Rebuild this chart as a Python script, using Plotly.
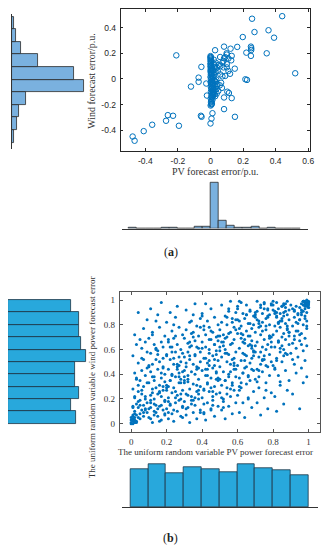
import plotly.graph_objects as go

# page body has an 8 px margin: figure is placed at (8, 8)
OFF = 8
W, H = 331 - OFF, 550 - OFF

# ---------------- Panel (a) data ----------------
a_pv_out = [0.44, 0.255, 0.356, 0.27, 0.198, 0.39, 0.248, 0.25, 0.164, 0.083,
            0.123, 0.25, 0.028, 0.22, 0.345, 0.248, -0.21, 0.099, 0.13, 0.059,
            0.083, 0.11, 0.127, 0.032, 0.073, 0.1, 0.04, 0.08, 0.11, 0.149,
            0.06, 0.09, 0.12, 0.52, -0.056, 0.214, 0.224, -0.073, -0.073, -0.12,
            0.042, 0.073, 0.048, 0.103, 0.113, 0.083, 0.13, -0.022, 0.008, 0.083,
            0.012, 0.15, -0.059, -0.055, 0.006, 0.0, 0.057, 0.07, -0.23, -0.262,
            -0.273, -0.194, -0.358, -0.41, -0.478, -0.466, -0.026, 0.08, 0.09, 0.06,
            0.02, 0.03, 0.035, 0.025, 0.045, 0.02, 0.1, 0.1, 0.065, 0.05]
a_wind_out = [0.49, 0.47, 0.38, 0.366, 0.327, 0.322, 0.252, 0.24, 0.25, 0.252,
              0.236, 0.226, 0.224, 0.205, 0.2, 0.18, 0.184, 0.2, 0.18, 0.171,
              0.161, 0.16, 0.145, 0.127, 0.127, 0.115, 0.088, 0.09, 0.062, 0.08,
              0.035, 0.023, 0.04, 0.044, 0.094, -0.003, -0.008, 0.01, -0.023, -0.06,
              -0.041, 0.02, -0.094, -0.1, -0.11, -0.145, -0.15, -0.13, -0.197, -0.236,
              -0.268, -0.296, -0.288, -0.296, -0.31, -0.348, -0.05, -0.07, -0.288, -0.283,
              -0.327, -0.366, -0.358, -0.408, -0.45, -0.483, -0.036, 0.14, 0.17, 0.1,
              0.05, -0.02, -0.08, -0.12, 0.06, 0.15, 0.09, 0.19, -0.03, 0.11]
a_pv_col = [0.000, 0.002, 0.000, 0.001, 0.003, 0.000, 0.002, 0.004, 0.001, 0.000,
            0.005, 0.002, 0.000, 0.006, 0.003, 0.001, 0.007, 0.000, 0.004, 0.008,
            0.002, 0.006, 0.010, 0.000, 0.005, 0.009, 0.003, 0.012, 0.007, 0.001,
            0.011, 0.004, 0.014, 0.008, 0.002, 0.013, 0.006, 0.016, 0.010, 0.003,
            0.015, 0.007, 0.018, 0.011, 0.005, 0.014, 0.009, 0.002, 0.012, 0.006,
            0.003, 0.008, 0.004, 0.001,
            0.020, 0.025, 0.015, 0.030, 0.022, 0.018, 0.035, 0.027, 0.016, 0.024,
            0.032, 0.019, 0.028, 0.021, 0.038, 0.017, 0.026, 0.031, 0.023, 0.029]
a_wind_col = [0.178, 0.171, 0.165, 0.158, 0.150, 0.143, 0.137, 0.130, 0.121, 0.115,
              0.108, 0.100, 0.094, 0.086, 0.079, 0.071, 0.065, 0.058, 0.050, 0.044,
              0.037, 0.029, 0.022, 0.015, 0.008, 0.001, -0.006, -0.013, -0.020, -0.027,
              -0.034, -0.041, -0.048, -0.055, -0.062, -0.069, -0.076, -0.083, -0.090, -0.097,
              -0.104, -0.111, -0.118, -0.125, -0.132, -0.139, -0.146, -0.155, -0.163, -0.172,
              -0.181, -0.190, -0.200, -0.208,
              0.118, 0.092, 0.070, 0.055, 0.031, 0.012, -0.005, -0.018, -0.032, -0.047,
              -0.061, -0.074, -0.088, -0.102, -0.115, -0.125, 0.105, 0.080, -0.010, -0.135]

a_wind_bins = [-0.45, -0.35, -0.25, -0.15, -0.05, 0.05, 0.15, 0.25, 0.35, 0.45]
a_wind_counts = [3, 6, 9, 17, 88, 75, 31, 11, 5, 2]
a_pv_bins = [-0.475, -0.425, -0.375, -0.325, -0.275, -0.225, -0.175, -0.125, -0.075, -0.025,
             0.025, 0.075, 0.125, 0.175, 0.225, 0.275, 0.325, 0.375, 0.425, 0.475, 0.525]
a_pv_counts = [2, 1, 1, 0, 2, 2, 1, 1, 6, 6,
               170, 28, 12, 4, 4, 6, 0, 3, 0, 1, 1]
a_xticks = [-0.4, -0.2, 0, 0.2, 0.4, 0.6]
a_xticktext = ["-0.4", "-0.2", "0", "0.2", "0.4", "0.6"]
a_yticks = [-0.4, -0.2, 0, 0.2, 0.4]
a_yticktext = ["-0.4", "-0.2", "0", "0.2", "0.4"]

# ---------------- Panel (b) data ----------------
b_pv = [
    # 0.0 - 0.1
    0.01, 0.00, 0.02, 0.01, 0.03, 0.00, 0.02, 0.01, 0.04, 0.02, 0.07, 0.03, 0.05, 0.09, 0.02, 0.06, 0.08, 0.04, 0.01, 0.07,
    0.03, 0.09, 0.05, 0.02, 0.08, 0.06, 0.04, 0.01, 0.07, 0.09, 0.05, 0.03, 0.08, 0.02, 0.06, 0.10, 0.04, 0.07, 0.01, 0.09,
    0.06, 0.03, 0.08, 0.05, 0.02, 0.07, 0.09, 0.04, 0.01, 0.02,
    0.00, 0.01, 0.03, 0.02, 0.05, 0.04, 0.08, 0.06, 0.01, 0.03, 0.07, 0.02, 0.09, 0.05, 0.00, 0.04, 0.06, 0.02, 0.08, 0.01,
    # 0.1 - 0.2
    0.12, 0.17, 0.11, 0.15, 0.19, 0.13, 0.18, 0.10, 0.16, 0.14, 0.11, 0.19, 0.13, 0.17, 0.15, 0.12, 0.18, 0.14, 0.16, 0.10,
    0.13, 0.17, 0.19, 0.11, 0.15, 0.18, 0.12, 0.16, 0.14, 0.20, 0.11, 0.15, 0.18, 0.13, 0.17, 0.10, 0.19, 0.12, 0.16, 0.14,
    0.15, 0.11, 0.17, 0.13, 0.19, 0.16, 0.12, 0.18, 0.14, 0.11,
    0.10, 0.13, 0.16, 0.11, 0.19, 0.14, 0.17, 0.12, 0.15, 0.18, 0.11, 0.14, 0.19, 0.13, 0.16, 0.10, 0.17, 0.12, 0.18, 0.15,
    # 0.2 - 0.3
    0.24, 0.21, 0.28, 0.23, 0.26, 0.20, 0.29, 0.22, 0.25, 0.27, 0.21, 0.26, 0.23, 0.29, 0.24, 0.20, 0.27, 0.22, 0.28, 0.25,
    0.23, 0.29, 0.21, 0.26, 0.24, 0.28, 0.22, 0.27, 0.20, 0.25, 0.28, 0.22, 0.26, 0.21, 0.24, 0.29, 0.23, 0.27, 0.20, 0.25,
    0.22, 0.26, 0.21, 0.28, 0.24, 0.27, 0.23, 0.29, 0.25, 0.21,
    0.21, 0.25, 0.28, 0.22, 0.26, 0.20, 0.29, 0.24, 0.27, 0.23, 0.21, 0.28, 0.25, 0.22, 0.29, 0.26, 0.20, 0.24, 0.27, 0.23,
    # 0.3 - 0.4
    0.33, 0.37, 0.31, 0.35, 0.39, 0.32, 0.36, 0.30, 0.38, 0.34, 0.31, 0.37, 0.33, 0.39, 0.35, 0.32, 0.38, 0.30, 0.36, 0.34,
    0.37, 0.31, 0.35, 0.39, 0.33, 0.30, 0.36, 0.32, 0.38, 0.34, 0.32, 0.36, 0.30, 0.38, 0.34, 0.31, 0.37, 0.33, 0.39, 0.35,
    0.31, 0.36, 0.32, 0.34, 0.30, 0.38, 0.33, 0.37, 0.35, 0.39,
    0.31, 0.35, 0.38, 0.32, 0.36, 0.30, 0.39, 0.34, 0.37, 0.33, 0.31, 0.38, 0.35, 0.32, 0.39, 0.36, 0.30, 0.34, 0.37, 0.33,
    # 0.4 - 0.5
    0.42, 0.47, 0.41, 0.45, 0.49, 0.43, 0.46, 0.40, 0.48, 0.44, 0.41, 0.47, 0.43, 0.49, 0.45, 0.42, 0.48, 0.40, 0.46, 0.44,
    0.43, 0.49, 0.41, 0.46, 0.44, 0.48, 0.42, 0.47, 0.40, 0.45, 0.48, 0.42, 0.46, 0.41, 0.44, 0.49, 0.43, 0.47, 0.40, 0.45,
    0.42, 0.46, 0.41, 0.48, 0.43, 0.47, 0.44, 0.49, 0.45, 0.41,
    0.41, 0.45, 0.48, 0.42, 0.46, 0.40, 0.49, 0.44, 0.47, 0.43, 0.41, 0.48, 0.45, 0.42, 0.49, 0.46, 0.40, 0.44, 0.47, 0.43,
    # 0.5 - 0.6
    0.53, 0.57, 0.51, 0.55, 0.59, 0.52, 0.56, 0.50, 0.58, 0.54, 0.51, 0.57, 0.53, 0.59, 0.55, 0.52, 0.58, 0.50, 0.56, 0.54,
    0.57, 0.51, 0.55, 0.59, 0.53, 0.50, 0.56, 0.52, 0.58, 0.54, 0.52, 0.56, 0.50, 0.58, 0.54, 0.51, 0.57, 0.53, 0.59, 0.55,
    0.51, 0.56, 0.52, 0.54, 0.50, 0.58, 0.53, 0.57, 0.55, 0.59,
    0.51, 0.55, 0.58, 0.52, 0.56, 0.50, 0.59, 0.54, 0.57, 0.53, 0.51, 0.58, 0.55, 0.52, 0.59, 0.56, 0.50, 0.54, 0.57, 0.53,
    # 0.6 - 0.7
    0.64, 0.61, 0.68, 0.63, 0.66, 0.60, 0.69, 0.62, 0.65, 0.67, 0.61, 0.66, 0.63, 0.69, 0.64, 0.60, 0.67, 0.62, 0.68, 0.65,
    0.63, 0.69, 0.61, 0.66, 0.64, 0.68, 0.62, 0.67, 0.60, 0.65, 0.68, 0.62, 0.66, 0.61, 0.64, 0.69, 0.63, 0.67, 0.60, 0.65,
    0.62, 0.66, 0.61, 0.68, 0.64, 0.67, 0.63, 0.69, 0.65, 0.61,
    0.61, 0.65, 0.68, 0.62, 0.66, 0.60, 0.69, 0.64, 0.67, 0.63, 0.61, 0.68, 0.65, 0.62, 0.69, 0.66, 0.60, 0.64, 0.67, 0.63,
    # 0.7 - 0.8
    0.73, 0.77, 0.71, 0.75, 0.79, 0.72, 0.76, 0.70, 0.78, 0.74, 0.71, 0.77, 0.73, 0.79, 0.75, 0.72, 0.78, 0.70, 0.76, 0.74,
    0.77, 0.71, 0.75, 0.79, 0.73, 0.70, 0.76, 0.72, 0.78, 0.74, 0.72, 0.76, 0.70, 0.78, 0.74, 0.71, 0.77, 0.73, 0.79, 0.75,
    0.71, 0.76, 0.72, 0.74, 0.70, 0.78, 0.73, 0.77, 0.75, 0.79,
    0.71, 0.75, 0.78, 0.72, 0.76, 0.70, 0.79, 0.74, 0.77, 0.73, 0.71, 0.78, 0.75, 0.72, 0.79, 0.76, 0.70, 0.74, 0.77, 0.73,
    # 0.8 - 0.9
    0.82, 0.86, 0.81, 0.88, 0.84, 0.89, 0.83, 0.87, 0.80, 0.85, 0.82, 0.88, 0.84, 0.86, 0.81, 0.89, 0.83, 0.87, 0.85, 0.80,
    0.86, 0.82, 0.88, 0.84, 0.81, 0.87, 0.83, 0.89, 0.85, 0.82, 0.88, 0.84, 0.86, 0.81, 0.89, 0.83, 0.87, 0.85, 0.80, 0.86,
    0.82, 0.88, 0.84, 0.81, 0.87, 0.83, 0.89, 0.85, 0.82, 0.86,
    0.81, 0.85, 0.88, 0.82, 0.86, 0.80, 0.89, 0.84, 0.87, 0.83, 0.81, 0.88, 0.85, 0.82, 0.89, 0.86, 0.80, 0.84, 0.87, 0.83,
    # 0.9 - 1.0
    0.95, 0.91, 0.97, 0.99, 0.93, 0.96, 0.92, 0.98, 0.94, 0.90, 0.97, 0.93, 0.99, 0.91, 0.95, 0.98, 0.92, 0.96, 0.94, 0.99,
    0.91, 0.97, 0.93, 0.99, 0.95, 0.92, 0.98, 0.96, 0.94, 0.99, 0.97, 0.92, 0.98, 0.95, 1.00, 0.93, 0.99, 0.97, 0.96, 1.00,
    0.98, 0.99, 0.97, 1.00, 0.99, 0.98, 0.96, 0.99, 0.98, 1.00,
    0.91, 0.95, 0.98, 0.92, 0.96, 0.90, 0.99, 0.94, 0.97, 0.93, 0.91, 0.98, 0.95, 0.92, 0.99, 0.96, 1.00, 0.94, 0.97, 1.00,
]
b_wind = [
    # 0.0 - 0.1
    0.00, 0.01, 0.01, 0.02, 0.02, 0.03, 0.03, 0.04, 0.05, 0.05, 0.06, 0.07, 0.08, 0.09, 0.10, 0.11, 0.12, 0.13, 0.14, 0.15,
    0.16, 0.17, 0.19, 0.21, 0.22, 0.24, 0.26, 0.28, 0.30, 0.33, 0.35, 0.37, 0.39, 0.41, 0.43, 0.46, 0.49, 0.52, 0.55, 0.58,
    0.61, 0.64, 0.66, 0.68, 0.72, 0.77, 0.84, 0.90, 0.06, 0.02,
    0.00, 0.03, 0.01, 0.08, 0.04, 0.18, 0.11, 0.27, 0.13, 0.36, 0.09, 0.22, 0.45, 0.15, 0.05, 0.31, 0.53, 0.01, 0.20, 0.07,
    # 0.1 - 0.2
    0.01, 0.03, 0.04, 0.06, 0.08, 0.10, 0.11, 0.12, 0.14, 0.15, 0.17, 0.19, 0.20, 0.22, 0.24, 0.25, 0.27, 0.29, 0.31, 0.33,
    0.35, 0.37, 0.40, 0.42, 0.44, 0.46, 0.48, 0.50, 0.52, 0.55, 0.57, 0.59, 0.62, 0.64, 0.66, 0.69, 0.71, 0.74, 0.78, 0.83,
    0.88, 0.93, 0.98, 0.07, 0.18, 0.26, 0.38, 0.45, 0.60, 0.13,
    0.05, 0.16, 0.02, 0.23, 0.34, 0.09, 0.41, 0.28, 0.12, 0.53, 0.19, 0.61, 0.07, 0.38, 0.25, 0.47, 0.15, 0.72, 0.30, 0.56,
    # 0.2 - 0.3
    0.02, 0.04, 0.06, 0.08, 0.10, 0.12, 0.14, 0.16, 0.17, 0.19, 0.21, 0.23, 0.25, 0.27, 0.29, 0.31, 0.33, 0.35, 0.36, 0.38,
    0.40, 0.42, 0.44, 0.46, 0.48, 0.50, 0.52, 0.54, 0.56, 0.58, 0.60, 0.62, 0.64, 0.66, 0.69, 0.72, 0.75, 0.78, 0.82, 0.86,
    0.90, 0.95, 0.30, 0.20, 0.11, 0.47, 0.39, 0.57, 0.26, 0.68,
    0.09, 0.21, 0.33, 0.15, 0.44, 0.27, 0.05, 0.53, 0.38, 0.62, 0.18, 0.24, 0.71, 0.35, 0.13, 0.48, 0.29, 0.80, 0.41, 0.58,
    # 0.3 - 0.4
    0.01, 0.04, 0.07, 0.09, 0.11, 0.13, 0.15, 0.18, 0.20, 0.22, 0.24, 0.26, 0.28, 0.30, 0.32, 0.34, 0.36, 0.38, 0.40, 0.42,
    0.44, 0.46, 0.48, 0.50, 0.52, 0.54, 0.56, 0.58, 0.61, 0.63, 0.65, 0.67, 0.69, 0.71, 0.73, 0.76, 0.79, 0.82, 0.85, 0.88,
    0.92, 0.97, 0.23, 0.19, 0.35, 0.45, 0.55, 0.62, 0.70, 0.78,
    0.12, 0.19, 0.27, 0.36, 0.21, 0.43, 0.58, 0.16, 0.31, 0.66, 0.49, 0.24, 0.74, 0.39, 0.09, 0.55, 0.33, 0.83, 0.46, 0.62,
    # 0.4 - 0.5
    0.03, 0.06, 0.09, 0.12, 0.14, 0.17, 0.19, 0.21, 0.24, 0.26, 0.28, 0.30, 0.32, 0.35, 0.37, 0.39, 0.41, 0.43, 0.45, 0.47,
    0.49, 0.51, 0.53, 0.55, 0.57, 0.59, 0.62, 0.64, 0.66, 0.68, 0.70, 0.72, 0.74, 0.76, 0.78, 0.80, 0.83, 0.86, 0.89, 0.93,
    0.97, 0.15, 0.27, 0.36, 0.44, 0.52, 0.60, 0.67, 0.75, 0.08,
    0.16, 0.29, 0.42, 0.53, 0.22, 0.61, 0.37, 0.68, 0.47, 0.33, 0.79, 0.56, 0.11, 0.44, 0.71, 0.26, 0.87, 0.51, 0.64, 0.39,
    # 0.5 - 0.6
    0.04, 0.08, 0.11, 0.14, 0.17, 0.20, 0.22, 0.25, 0.27, 0.29, 0.31, 0.33, 0.35, 0.38, 0.40, 0.42, 0.44, 0.46, 0.48, 0.50,
    0.52, 0.54, 0.56, 0.58, 0.60, 0.62, 0.64, 0.66, 0.68, 0.70, 0.72, 0.74, 0.76, 0.78, 0.80, 0.82, 0.85, 0.87, 0.90, 0.93,
    0.96, 0.99, 0.13, 0.24, 0.36, 0.47, 0.57, 0.65, 0.73, 0.84,
    0.21, 0.38, 0.49, 0.63, 0.28, 0.71, 0.44, 0.57, 0.82, 0.35, 0.66, 0.53, 0.91, 0.18, 0.76, 0.42, 0.59, 0.86, 0.31, 0.69,
    # 0.6 - 0.7
    0.05, 0.09, 0.13, 0.17, 0.20, 0.23, 0.26, 0.29, 0.32, 0.35, 0.37, 0.39, 0.41, 0.43, 0.45, 0.47, 0.49, 0.51, 0.53, 0.55,
    0.57, 0.59, 0.61, 0.63, 0.65, 0.67, 0.69, 0.71, 0.73, 0.75, 0.77, 0.79, 0.81, 0.83, 0.85, 0.87, 0.89, 0.91, 0.93, 0.96,
    0.98, 0.21, 0.30, 0.44, 0.56, 0.64, 0.72, 0.80, 0.88, 0.99,
    0.27, 0.46, 0.61, 0.73, 0.38, 0.84, 0.55, 0.68, 0.92, 0.41, 0.77, 0.63, 0.88, 0.33, 0.58, 0.71, 0.95, 0.51, 0.81, 0.66,
    # 0.7 - 0.8
    0.07, 0.12, 0.17, 0.21, 0.25, 0.29, 0.33, 0.36, 0.39, 0.42, 0.44, 0.46, 0.48, 0.50, 0.52, 0.54, 0.56, 0.58, 0.60, 0.62,
    0.64, 0.66, 0.68, 0.70, 0.72, 0.74, 0.76, 0.78, 0.80, 0.82, 0.83, 0.85, 0.86, 0.88, 0.89, 0.91, 0.92, 0.94, 0.96, 0.98,
    0.99, 0.27, 0.38, 0.51, 0.63, 0.71, 0.79, 0.87, 0.93, 0.97,
    0.34, 0.55, 0.69, 0.81, 0.47, 0.88, 0.62, 0.75, 0.93, 0.58, 0.84, 0.71, 0.97, 0.43, 0.66, 0.79, 0.90, 0.52, 0.86, 0.96,
    # 0.8 - 0.9
    0.10, 0.16, 0.22, 0.27, 0.31, 0.35, 0.39, 0.43, 0.47, 0.50, 0.53, 0.56, 0.58, 0.60, 0.62, 0.64, 0.66, 0.68, 0.70, 0.72,
    0.73, 0.75, 0.76, 0.78, 0.79, 0.81, 0.82, 0.84, 0.85, 0.87, 0.88, 0.89, 0.90, 0.91, 0.92, 0.93, 0.94, 0.95, 0.96, 0.97,
    0.98, 0.99, 0.34, 0.45, 0.57, 0.67, 0.74, 0.83, 0.90, 0.96,
    0.44, 0.63, 0.77, 0.86, 0.55, 0.92, 0.71, 0.83, 0.97, 0.66, 0.89, 0.79, 0.95, 0.51, 0.74, 0.87, 0.99, 0.61, 0.91, 0.81,
    # 0.9 - 1.0
    0.12, 0.24, 0.33, 0.38, 0.41, 0.45, 0.48, 0.51, 0.54, 0.57, 0.59, 0.61, 0.63, 0.65, 0.67, 0.69, 0.71, 0.73, 0.75, 0.77,
    0.79, 0.80, 0.82, 0.83, 0.84, 0.86, 0.87, 0.88, 0.89, 0.90, 0.91, 0.92, 0.93, 0.94, 0.94, 0.95, 0.96, 0.96, 0.97, 0.97,
    0.98, 0.98, 0.99, 0.99, 1.00, 0.95, 0.92, 0.97, 0.99, 0.94,
    0.52, 0.72, 0.85, 0.91, 0.64, 0.96, 0.79, 0.88, 0.99, 0.75, 0.93, 0.97, 0.84, 0.68, 0.95, 0.90, 0.98, 0.81, 0.99, 0.96,
]
b_bins = [0.05, 0.15, 0.25, 0.35, 0.45, 0.55, 0.65, 0.75, 0.85, 0.95]
b_wind_counts = [98, 91, 103, 97, 97, 113, 106, 102, 102, 91]
b_pv_counts = [101, 114, 89, 105, 101, 93, 113, 103, 97, 84]
b_ticks = [0, 0.2, 0.4, 0.6, 0.8, 1]
b_ticktext = ["0", "0.2", "0.4", "0.6", "0.8", "1"]


def PX(p):
    return (p - OFF) / W


def PY(p):
    return 1 - (p - OFF) / H


AX = "#262626"
BLUE = "#0072BD"
HA_FILL = "rgb(122,177,223)"
HB_FILL = "rgb(40,168,220)"
SANS = "Liberation Sans, Arial, sans-serif"
SERIF = "Liberation Serif, Times New Roman, serif"

fig = go.Figure()

fig.add_trace(go.Scatter(x=a_pv_out + a_pv_col, y=a_wind_out + a_wind_col, mode="markers",
                         marker=dict(symbol="circle-open", size=5.5, color=BLUE, line=dict(width=1, color=BLUE)),
                         xaxis="x", yaxis="y"))
fig.add_trace(go.Bar(y=a_wind_bins, x=a_wind_counts, orientation="h", width=0.1,
                     marker=dict(color=HA_FILL, line=dict(color="#2b2b2b", width=0.8)),
                     xaxis="x2", yaxis="y2"))
fig.add_trace(go.Bar(x=a_pv_bins, y=a_pv_counts, width=0.05,
                     marker=dict(color=HA_FILL, line=dict(color="#2b2b2b", width=0.8)),
                     xaxis="x3", yaxis="y3"))
fig.add_trace(go.Scatter(x=b_pv, y=b_wind, mode="markers",
                         marker=dict(symbol="circle", size=3.0, color=BLUE, line=dict(width=0)),
                         xaxis="x4", yaxis="y4"))
fig.add_trace(go.Bar(y=b_bins, x=b_wind_counts, orientation="h", width=0.1,
                     marker=dict(color=HB_FILL, line=dict(color="#1c3445", width=0.8)),
                     xaxis="x5", yaxis="y5"))
fig.add_trace(go.Bar(x=b_bins, y=b_pv_counts, width=0.1,
                     marker=dict(color=HB_FILL, line=dict(color="#1c3445", width=0.8)),
                     xaxis="x6", yaxis="y6"))

box_a = dict(showline=True, linecolor=AX, linewidth=0.8, mirror="ticks", ticks="inside",
             ticklen=3, tickcolor=AX, tickwidth=0.8, showgrid=False, zeroline=False,
             tickfont=dict(family=SANS, size=8.5, color=AX), ticklabelstandoff=2)
box_b = dict(showline=True, linecolor="#555", linewidth=0.8, mirror="ticks", ticks="inside",
             ticklen=3, tickcolor="#555", tickwidth=0.8, showgrid=False, zeroline=False,
             tickfont=dict(family=SERIF, size=9, color="#333"), ticklabelstandoff=2)
hidden = dict(visible=False, showgrid=False, zeroline=False)
base = dict(showline=True, linecolor="#333", linewidth=1, showticklabels=False, ticks="",
            showgrid=False, zeroline=False)

fig.update_layout(
    width=W, height=H, margin=dict(l=0, r=0, t=0, b=0),
    paper_bgcolor="white", plot_bgcolor="rgba(0,0,0,0)", showlegend=False,
    bargap=0,
    xaxis=dict(domain=[PX(122), PX(314)], range=[-0.552, 0.612], tickvals=a_xticks,
               ticktext=a_xticktext, anchor="y", **box_a),
    yaxis=dict(domain=[PY(150), PY(8)], range=[-0.561, 0.546], tickvals=a_yticks,
               ticktext=a_yticktext, anchor="x", **box_a),
    xaxis2=dict(domain=[PX(12), PX(92)], range=[0, 96], anchor="y2", **hidden),
    yaxis2=dict(domain=[PY(148), PY(13)], range=[-0.548, 0.52], anchor="x2", **base),
    xaxis3=dict(domain=[PX(123), PX(312)], range=[-0.545, 0.6], anchor="y3", **base),
    yaxis3=dict(domain=[PY(228), PY(179)], range=[0, 181], anchor="x3", **hidden),
    xaxis4=dict(domain=[PX(121), PX(324)], range=[-0.065, 1.065], tickvals=b_ticks,
                ticktext=b_ticktext, anchor="y4", **box_b),
    yaxis4=dict(domain=[PY(431.5), PY(291.5)], range=[-0.065, 1.065], tickvals=b_ticks,
                ticktext=b_ticktext, anchor="x4", **box_b),
    xaxis5=dict(domain=[PX(8), PX(88)], range=[0, 114], anchor="y5", **hidden),
    yaxis5=dict(domain=[PY(431.5), PY(291.5)], range=[-0.065, 1.065], anchor="x5", **base),
    xaxis6=dict(domain=[PX(123), PX(322)], range=[-0.05, 1.0556], anchor="y6", **base),
    yaxis6=dict(domain=[PY(507), PY(459)], range=[0, 126], anchor="x6", **hidden),
)

ann = [
    dict(text="Wind forecast error/p.u.", x=PX(93), y=PY(80), textangle=-90,
         font=dict(family=SERIF, size=10, color="#333")),
    dict(text="PV forecast error/p.u.", x=PX(218), y=PY(171),
         font=dict(family=SERIF, size=10, color="#333")),
    dict(text="(<b>a</b>)", x=PX(173), y=PY(251), font=dict(family=SERIF, size=12, color="#222")),
    dict(text="The uniform random variable wind power forecast error", x=PX(93), y=PY(377),
         textangle=-90, font=dict(family=SERIF, size=9, color="#333")),
    dict(text="The uniform random variable PV power forecast error", x=PX(218), y=PY(452),
         font=dict(family=SERIF, size=9, color="#333")),
    dict(text="(<b>b</b>)", x=PX(173), y=PY(538), font=dict(family=SERIF, size=12, color="#222")),
]
for a in ann:
    a.update(xref="paper", yref="paper", showarrow=False, xanchor="center", yanchor="middle")
fig.update_layout(annotations=ann)

fig.write_html("out.html")
